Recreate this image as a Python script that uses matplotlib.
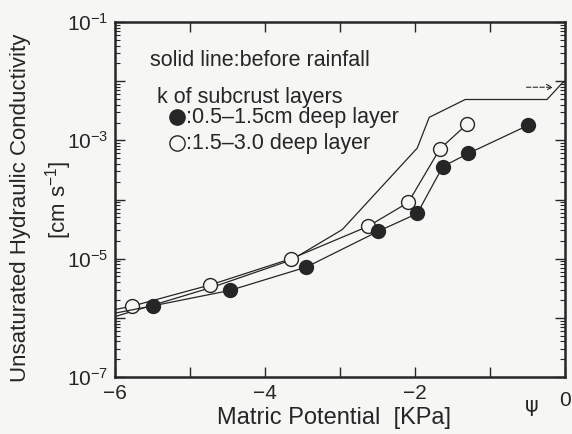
import math
import matplotlib
matplotlib.use("Agg")
import matplotlib.pyplot as plt
from matplotlib.ticker import LogLocator, FixedLocator, NullFormatter, FuncFormatter

plt.rcParams['font.family'] = ['Liberation Sans', 'DejaVu Sans']
plt.rcParams['mathtext.fontset'] = 'custom'
plt.rcParams['mathtext.rm'] = 'Liberation Sans'
plt.rcParams['mathtext.it'] = 'Liberation Sans'

# ---- data ----
# open circles: 1.5-3.0 cm deep layer (first x is the line start at the axis edge)
open_x = [-6.0, -5.77, -4.73, -3.65, -2.63, -2.09, -1.67, -1.31]
open_k = [1.38e-6, 1.58e-6, 3.6e-6, 1.0e-5, 3.5e-5, 8.9e-5, 7.1e-4, 1.86e-3]
# filled circles: 0.5-1.5 cm deep layer
filled_x = [-6.0, -5.49, -4.47, -3.45, -2.49, -1.97, -1.63, -1.29, -0.49]
filled_k = [1.2e-6, 1.6e-6, 2.9e-6, 7.2e-6, 2.9e-5, 5.8e-5, 3.6e-4, 6.0e-4, 1.8e-3]
# solid line: before rainfall
before_x = [-6.0, -4.7, -3.65, -2.97, -1.97, -1.81, -1.33, -0.24, -0.03, 0.0]
before_k = [1.05e-6, 3.3e-6, 9.5e-6, 3.1e-5, 7.4e-4, 2.45e-3, 4.9e-3, 4.9e-3, 9.5e-3, 9.5e-3]

xticks_major = [-6, -4, -2, 0]
xticks_all = [-6, -5, -4, -3, -2, -1, 0]
ylabels_exp = [-7, -5, -3, -1]

ink = '#262626'
bg = '#f6f6f4'

fig = plt.figure(figsize=(5.72, 4.34), dpi=100, facecolor=bg)
ax = fig.add_axes([115/572, 1-377/434, 450/572, 355/434], facecolor=bg)

ax.set_yscale('log')
ax.set_xlim(-6, 0)
ax.set_ylim(1e-7, 1e-1)

ax.plot(before_x, before_k, color=ink, lw=0.9)
ax.plot(open_x, open_k, color=ink, lw=0.9, marker='o', ms=10, mfc=bg, mec=ink,
        mew=1.0, markevery=slice(1, None))
ax.plot(filled_x, filled_k, color=ink, lw=0.9, marker='o', ms=10, mfc=ink, mec=ink,
        markevery=slice(1, None))

ax.annotate('', xy=(-0.12, 7.9e-3), xytext=(-0.55, 7.9e-3),
            arrowprops=dict(arrowstyle='->', linestyle=(0, (4, 2)), lw=0.8, color=ink))


def xfmt(v, p):
    iv = int(round(v))
    if iv in xticks_major and iv != 0:
        return '\u2212%d' % abs(iv)
    return ''


def yfmt(v, p):
    e = int(round(math.log10(v)))
    if e in ylabels_exp:
        return '$10^{\u2212%d}$' % abs(e)
    return ''


ax.xaxis.set_major_locator(FixedLocator(xticks_all))
ax.xaxis.set_major_formatter(FuncFormatter(xfmt))
ax.yaxis.set_major_locator(LogLocator(base=10, numticks=20))
ax.yaxis.set_minor_locator(LogLocator(base=10, subs=range(2, 10), numticks=20))
ax.yaxis.set_minor_formatter(NullFormatter())
ax.yaxis.set_major_formatter(FuncFormatter(yfmt))

ax.tick_params(which='major', direction='in', length=7, width=1.0, colors=ink,
               labelsize=15, top=True, right=True, pad=5)
ax.tick_params(which='minor', direction='in', length=3.5, width=0.8, colors=ink,
               top=False, right=True)
for s in ax.spines.values():
    s.set_linewidth(1.8)
    s.set_color(ink)

# "0" label and psi
fig.text(565/572, 1-400/434, '0', ha='center', va='center', fontsize=15, color=ink)
fig.text(532/572, 1-406/434, '\u03c8', ha='center', va='center', fontsize=15,
         color=ink, family=['DejaVu Sans'])

# axis labels
fig.text(334/572, 1-418/434, 'Matric Potential  [KPa]', ha='center', va='center',
         fontsize=17, color=ink)
fig.text(21/572, 1-208/434, 'Unsaturated Hydraulic Conductivity', ha='center',
         va='center', rotation=90, fontsize=16, color=ink)
fig.text(59/572, 1-200/434, '[cm s$^{\u22121}$]', ha='center', va='center',
         rotation=90, fontsize=16, color=ink)

# legend block
fs_leg = 15.5
fig.text(150/572, 1-60/434, 'solid line:before rainfall', ha='left', va='center',
         fontsize=fs_leg, color=ink)
fig.text(157/572, 1-97/434, 'k of subcrust layers', ha='left', va='center',
         fontsize=fs_leg, color=ink)
fig.text(186/572, 1-118/434, ':0.5\u20131.5cm deep layer', ha='left', va='center',
         fontsize=fs_leg, color=ink)
fig.text(186/572, 1-143/434, ':1.5\u20133.0 deep layer', ha='left', va='center',
         fontsize=fs_leg, color=ink)
ax.plot([(177-115)/450], [(377-117)/355], transform=ax.transAxes, marker='o', ms=11,
        mfc=ink, mec=ink, clip_on=False)
ax.plot([(177-115)/450], [(377-143)/355], transform=ax.transAxes, marker='o', ms=11,
        mfc=bg, mec=ink, mew=1.0, clip_on=False)

fig.savefig('out.png', dpi=100, facecolor=bg)
